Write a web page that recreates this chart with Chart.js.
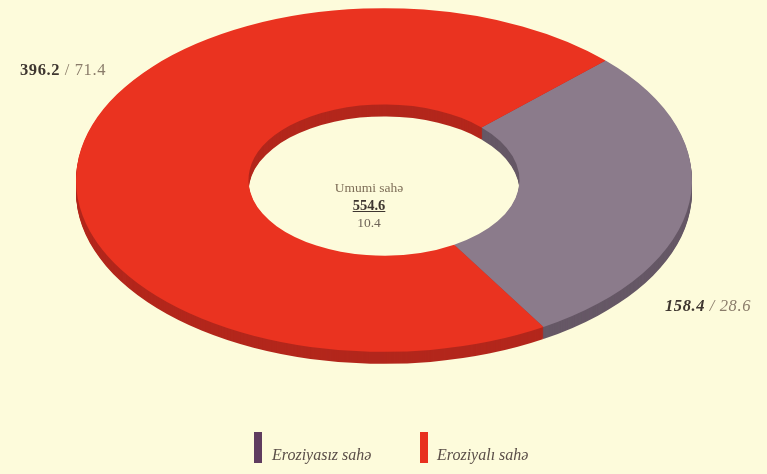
<!DOCTYPE html>
<html>
<head>
<meta charset="utf-8">
<script src="https://cdn.jsdelivr.net/npm/chart.js@4.4.1/dist/chart.umd.min.js"></script>
<style>
  html,body{margin:0;padding:0;background:#fdfbdb;}
  #wrap{position:relative;width:767px;height:474px;overflow:hidden;background:#fdfbdb;font-family:"Liberation Serif","DejaVu Serif",serif;}
  canvas{position:absolute;left:0;top:0;}
  .lbl{position:absolute;font-size:16.5px;letter-spacing:0.6px;color:#8a7c6a;white-space:nowrap;}
  .lbl b{color:#3e3630;}
  #center{position:absolute;left:284px;top:179px;width:170px;text-align:center;font-size:13.5px;line-height:17.5px;color:#7e6e58;}
  #center .tot{font-weight:bold;font-size:14.5px;color:#3e3630;text-decoration:underline;}
  #center .sub{color:#6e6458;}
  .leg{position:absolute;top:432px;height:31px;width:8px;}
  .legt{position:absolute;top:446px;font-size:16px;font-style:italic;color:#5a4e48;white-space:nowrap;}
</style>
</head>
<body>
<div id="wrap">
  <canvas id="c" width="767" height="474"></canvas>
  <div class="lbl" id="lblRed" style="left:20px;top:60px;"></div>
  <div class="lbl" id="lblGrey" style="left:665px;top:296px;font-style:italic;"></div>
  <div id="center"></div>
  <div class="leg" id="leg0" style="left:254px;"></div>
  <div class="legt" id="legt0" style="left:272px;"></div>
  <div class="leg" id="leg1" style="left:420px;"></div>
  <div class="legt" id="legt1" style="left:437px;"></div>
</div>
<script>
// ---- data ----
const categories = ["Eroziyasız sahə", "Eroziyalı sahə"];
const areaValues = [158.4, 396.2];
const percentValues = [28.6, 71.4];
const centerTitle = "Umumi sahə";
const centerTotal = "554.6";
const centerSub = "10.4";

// ---- styles ----
const topColors = ["#8b7b8b", "#ea3320"];
const sideColors = ["#665866", "#b3271c"];
const legendColors = ["#5f3c5f", "#e8301f"];
const RATIO = 0.558;
const DEPTH = 12;

document.getElementById('lblRed').innerHTML = '<b>' + areaValues[1] + '</b> / ' + percentValues[1];
document.getElementById('lblGrey').innerHTML = '<b>' + areaValues[0] + '</b> / ' + percentValues[0];
document.getElementById('center').innerHTML = '<div>' + centerTitle + '</div><div class="tot">' + centerTotal + '</div><div class="sub">' + centerSub + '</div>';
for (let i = 0; i < categories.length; i++) {
  document.getElementById('leg' + i).style.background = legendColors[i];
  document.getElementById('legt' + i).textContent = categories[i];
}

const squash = {
  id: 'squash',
  beforeDatasetsDraw(chart) {
    const ctx = chart.ctx;
    const meta = chart.getDatasetMeta(0);
    const a0 = meta.data[0];
    const cx = a0.x, cy = a0.y;
    for (let d = DEPTH; d >= 1; d--) {
      ctx.save();
      ctx.translate(cx, cy + d);
      ctx.scale(1, RATIO);
      ctx.translate(-cx, -cy);
      meta.data.forEach((arc, i) => {
        const p = arc.getProps(['startAngle', 'endAngle', 'innerRadius', 'outerRadius']);
        ctx.beginPath();
        ctx.arc(cx, cy, p.outerRadius, p.startAngle, p.endAngle);
        ctx.arc(cx, cy, p.innerRadius, p.endAngle, p.startAngle, true);
        ctx.closePath();
        ctx.fillStyle = sideColors[i];
        ctx.fill();
      });
      ctx.restore();
    }
    ctx.save();
    ctx.translate(cx, cy);
    ctx.scale(1, RATIO);
    ctx.translate(-cx, -cy);
  },
  afterDatasetsDraw(chart) {
    chart.ctx.restore();
  }
};

new Chart(document.getElementById('c'), {
  type: 'doughnut',
  data: {
    labels: categories,
    datasets: [{
      data: areaValues,
      backgroundColor: topColors,
      borderWidth: 0,
      radius: 308,
      cutout: '44%',
      rotation: 46
    }]
  },
  options: {
    responsive: false,
    animation: false,
    layout: { padding: { left: 1, right: 0, top: 0, bottom: 114 } },
    plugins: { legend: { display: false }, tooltip: { enabled: false } }
  },
  plugins: [squash]
});
</script>
</body>
</html>
